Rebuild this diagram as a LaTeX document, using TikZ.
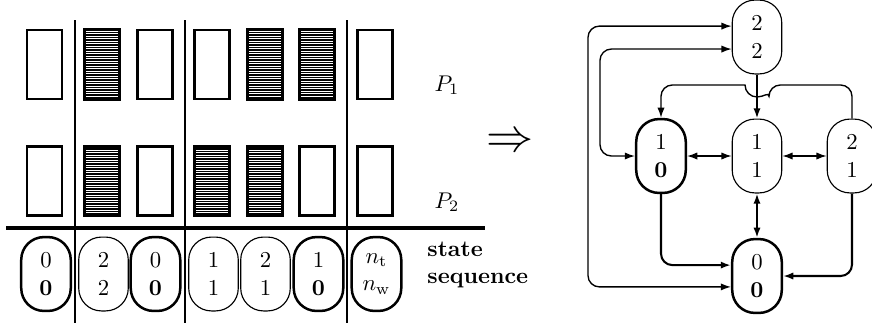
\documentclass[tikz,border=0pt]{standalone}
\usepackage{amsmath,amssymb}
\usepackage{tikz}
\usetikzlibrary{arrows.meta,positioning,calc}

\begin{document}
\begin{tikzpicture}[
  x=0.44pt, y=-0.44pt,
  >={Latex[length=4.5pt,width=3.2pt]},
  every node/.style={font=\normalsize},
  slot/.style={draw, line width=1pt, minimum width=15.4pt, minimum height=30.4pt,
               inner sep=0pt},
  barred/.style={slot, line width=1.3pt, path picture={
      \foreach \k in {0,...,28}
        \draw[line width=0.65pt]
          ([yshift=-\k*1.1pt]path picture bounding box.north west) --
          ([yshift=-\k*1.1pt]path picture bounding box.north east);}},
  pill/.style={draw, line width=0.5pt, rounded corners=10pt, align=center,
               minimum width=21.8pt, minimum height=32.5pt, inner sep=1pt},
  boldpill/.style={pill, line width=1.1pt},
  edge/.style={line width=0.6pt, rounded corners=5pt},
  heavy/.style={line width=1.2pt}
]
\useasboundingbox (0,0) rectangle (872,331);

%% dividers
\draw[line width=0.9pt] (75,20) -- (75,323);
\draw[line width=0.9pt] (185,20) -- (185,323);
\draw[line width=0.9pt] (347,20) -- (347,323);
\draw[line width=1.4pt] (6,228) -- (485,228);

%% P1 row
\node[slot]   (a1) at (44.5,64.5) {};
\node[barred] (a2) at (102,64.5) {};
\node[slot]   (a3) at (155,64.5) {};
\node[slot]   (a4) at (212,64.5) {};
\node[barred] (a5) at (265,64.5) {};
\node[barred] (a6) at (317,64.5) {};
\node[slot]   (a7) at (375,64.5) {};
%% P2 row
\node[slot]   (b1) at (44.5,181) {};
\node[barred] (b2) at (102,181) {};
\node[slot]   (b3) at (155,181) {};
\node[barred] (b4) at (212,181) {};
\node[barred] (b5) at (265,181) {};
\node[slot]   (b6) at (317,181) {};
\node[slot]   (b7) at (375,181) {};

\node (p1) at (447,85) {$P_1$};
\node (p2) at (447,202) {$P_2$};

%% state sequence
\node[boldpill] (q1) at (46,274) {0\\$\mathbf{0}$};
\node[pill]     (q2) at (103.5,274) {2\\2};
\node[boldpill] (q3) at (155.5,274) {0\\$\mathbf{0}$};
\node[pill]     (q4) at (213.5,274) {1\\1};
\node[pill]     (q5) at (265.5,274) {2\\1};
\node[boldpill] (q6) at (318.5,274) {1\\$\mathbf{0}$};
\node[boldpill] (q7) at (376.5,274) {$n_{\rm t}$\\$n_{\rm w}$};
\node[anchor=west, align=left, inner sep=0pt] (seq) at (427,265)
  {\textbf{state}\\\textbf{sequence}};

\node[font=\huge] (impl) at (510,143) {$\Rightarrow$};

%% state graph
\node[pill]     (n22) at (757,37) {2\\2};
\node[boldpill] (n10) at (661,156) {1\\$\mathbf{0}$};
\node[pill]     (n11) at (757,156) {1\\1};
\node[pill]     (n21) at (852,156) {2\\1};
\node[boldpill] (n00) at (757,276) {0\\$\mathbf{0}$};

\draw[heavy,->] (n22) -- (n11);
\draw[edge,->] (n21.north) |- (769,85) [sharp corners]
  arc[start angle=0, end angle=180, radius=12] [rounded corners=5pt]
  -| (n10.north);
\draw[edge,<->] (n10) -- (n11);
\draw[edge,<->] (n11) -- (n21);
\draw[heavy,<->] (n11) -- (n00);
\draw[edge,line width=0.9pt,->] (n10.south) |- ([yshift=4.8pt]n00.west);
\draw[edge,line width=0.9pt,->] (n21.south) |- (n00.east);
\draw[edge,<->] ([yshift=-4.8pt]n00.west) -| (588,156) |- ([yshift=4.8pt]n22.west);
\draw[edge,<->] ([yshift=-5.3pt]n22.west) -| (600,100) |- (n10.west);
\end{tikzpicture}
\end{document}
